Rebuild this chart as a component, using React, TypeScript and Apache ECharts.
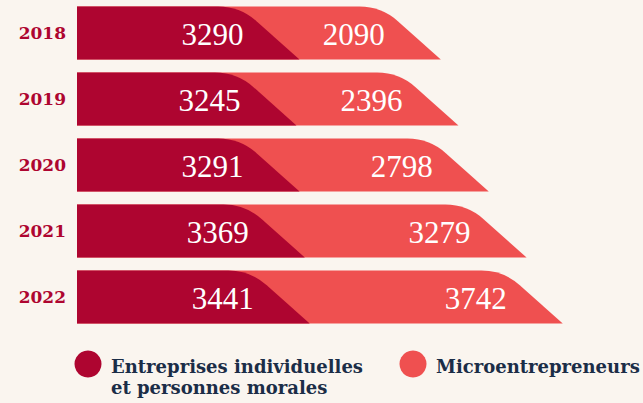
import React, { useEffect, useRef } from "react";
import * as echarts from "echarts";

const years = ["2018", "2019", "2020", "2021", "2022"];
const entreprises = [3290, 3245, 3291, 3369, 3441];
const micro = [2090, 2396, 2798, 3279, 3742];
const seriesNames = ["Entreprises individuelles\net personnes morales", "Microentrepreneurs"];

const DARK = "#AE0530";
const LIGHT = "#EF5050";
const BG = "#FAF5EF";
const NAVY = "#1B2D47";

function makeRender(fill: string) {
  return (params: any, api: any) => {
    const idx = api.value(0);
    const end = api.value(2);
    const val = api.value(3);
    const pEnd = api.coord([end, idx]);
    const p0 = api.coord([0, idx]);
    const h = 53;
    const top = pEnd[1] - h / 2;
    const bottom = top + h;
    const s = 1.12;
    const n = Math.sqrt(1 + s * s);
    const xe = pEnd[0];
    const cx = xe - h * s;
    const r = 22;
    const d =
      `M ${p0[0]} ${top} L ${cx - r} ${top} Q ${cx} ${top} ${cx + (r * s) / n} ${top + r / n} ` +
      `L ${xe} ${bottom} L ${p0[0]} ${bottom} Z`;
    return {
      type: "group",
      children: [
        { type: "path", shape: { pathData: d }, style: { fill } },
        {
          type: "text",
          style: {
            text: String(val),
            x: xe - 56,
            y: pEnd[1] + 1,
            align: "right",
            verticalAlign: "middle",
            fill: "#FFFFFF",
            font: "normal 31px 'Liberation Serif'",
          },
        },
      ],
    };
  };
}

export default function App() {
  const ref = useRef<HTMLDivElement>(null);
  useEffect(() => {
    if (!ref.current) return;
    const chart = echarts.init(ref.current, null, { renderer: "svg" });
    const lightData = years.map((_, i) => [i, entreprises[i], entreprises[i] + micro[i], micro[i]]);
    const darkData = years.map((_, i) => [i, 0, entreprises[i], entreprises[i]]);
    chart.setOption({
      animation: false,
      backgroundColor: BG,
      grid: { left: 77, right: 25, top: 0, bottom: 73 },
      xAxis: { type: "value", min: 0, max: 8000, show: false },
      yAxis: {
        type: "category",
        data: years,
        inverse: true,
        axisLine: { show: false },
        axisTick: { show: false },
        axisLabel: {
          margin: 11,
          color: DARK,
          fontFamily: "DejaVu Serif",
          fontWeight: "bold",
          fontSize: 17,
        },
      },
      series: [
        {
          type: "custom",
          name: seriesNames[1],
          renderItem: makeRender(LIGHT),
          data: lightData,
          encode: { x: [1, 2], y: 0 },
          z: 2,
        },
        {
          type: "custom",
          name: seriesNames[0],
          renderItem: makeRender(DARK),
          data: darkData,
          encode: { x: [1, 2], y: 0 },
          z: 3,
        },
      ],
      graphic: [
        { type: "circle", shape: { cx: 88, cy: 364, r: 13.5 }, style: { fill: DARK } },
        {
          type: "text",
          x: 111,
          y: 356,
          style: {
            text: seriesNames[0],
            fill: NAVY,
            font: "bold 18px 'DejaVu Serif'",
            lineHeight: 21,
          },
        },
        { type: "circle", shape: { cx: 413, cy: 364, r: 13.5 }, style: { fill: LIGHT } },
        {
          type: "text",
          x: 436,
          y: 356,
          style: {
            text: seriesNames[1],
            fill: NAVY,
            font: "bold 18px 'DejaVu Serif'",
            lineHeight: 21,
          },
        },
      ],
    });
    return () => chart.dispose();
  }, []);
  return (
    <div
      ref={ref}
      style={{ position: "fixed", left: 0, top: 0, width: 643, height: 403, background: BG }}
    />
  );
}
